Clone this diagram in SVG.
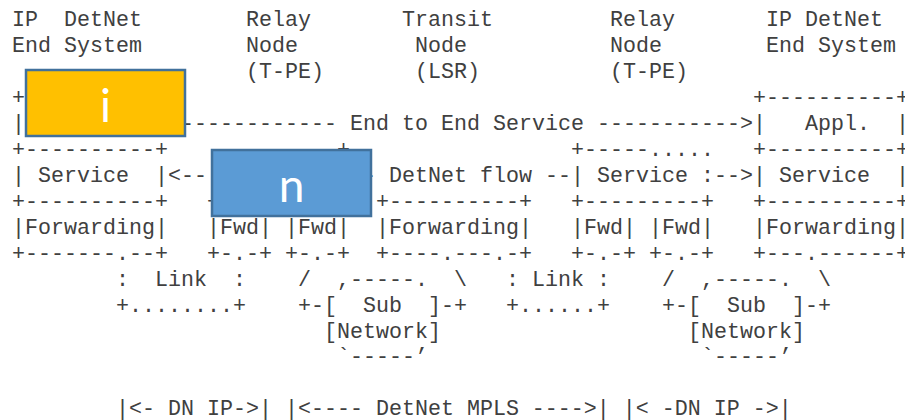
<svg xmlns="http://www.w3.org/2000/svg" width="905" height="420" viewBox="0 0 905 420">
  <style>
    .mono { font-family: "Liberation Mono", "DejaVu Sans Mono", monospace; font-size: 21.667px; fill: #404040; }
    .tag { stroke: #41719C; stroke-width: 2.5; }
    .letter { font-family: Lato, "Open Sans", "Liberation Sans", sans-serif; font-size: 46px; fill: #ffffff; text-anchor: middle; }
  </style>
  <rect width="905" height="420" fill="#ffffff"/>

  <!-- monospace drawing: column c starts at x = 12 + 13*c, rows every ~26px; runs of spaces use no-break spaces so they keep their width -->
  <g id="ascii-art" class="mono">
    <text y="26"><tspan x="12">IP&#160;&#160;DetNet</tspan><tspan x="246">Relay</tspan><tspan x="402">Transit</tspan><tspan x="610">Relay</tspan><tspan x="766">IP&#160;DetNet</tspan></text>
    <text y="52"><tspan x="12">End&#160;System</tspan><tspan x="246">Node</tspan><tspan x="415">Node</tspan><tspan x="610">Node</tspan><tspan x="766">End&#160;System</tspan></text>
    <text y="78"><tspan x="246">(T-PE)</tspan><tspan x="415">(LSR)</tspan><tspan x="610">(T-PE)</tspan></text>
    <text y="104"><tspan x="12">+</tspan><tspan x="753">+----------+</tspan></text>
    <text y="130"><tspan x="12">|</tspan><tspan x="181">------------</tspan><tspan x="350">End&#160;to&#160;End&#160;Service</tspan><tspan x="597">-----------&gt;|</tspan><tspan x="805">Appl.</tspan><tspan x="896">|</tspan></text>
    <text y="156"><tspan x="12">+----------+</tspan><tspan x="272">-----+</tspan><tspan x="571">+-----.....</tspan><tspan x="753">+----------+</tspan></text>
    <text y="182"><tspan x="12">|</tspan><tspan x="38">Service</tspan><tspan x="155">|&lt;--</tspan><tspan x="363">-</tspan><tspan x="389">DetNet&#160;flow&#160;--|&#160;Service&#160;:--&gt;|</tspan><tspan x="779">Service</tspan><tspan x="896">|</tspan></text>
    <text y="208"><tspan x="12">+----------+</tspan><tspan x="207">+</tspan><tspan x="376">+----------+</tspan><tspan x="571">+---------+</tspan><tspan x="753">+----------+</tspan></text>
    <text y="234"><tspan x="12">|Forwarding|</tspan><tspan x="207">|Fwd|&#160;|Fwd|</tspan><tspan x="376">|Forwarding|</tspan><tspan x="571">|Fwd|&#160;|Fwd|</tspan><tspan x="753">|Forwarding|</tspan></text>
    <text y="260"><tspan x="12">+-------.--+</tspan><tspan x="207">+-.-+&#160;+-.-+</tspan><tspan x="376">+----.---.-+</tspan><tspan x="571">+-.-+&#160;+-.-+</tspan><tspan x="753">+---.------+</tspan></text>
    <text y="285.5"><tspan x="116">:</tspan><tspan x="155">Link</tspan><tspan x="233">:</tspan><tspan x="298">/</tspan><tspan x="337">,-----.</tspan><tspan x="454">\</tspan><tspan x="506">:&#160;Link&#160;:</tspan><tspan x="662">/</tspan><tspan x="701">,-----.</tspan><tspan x="818">\</tspan></text>
    <text y="311.5"><tspan x="116">+........+</tspan><tspan x="298">+-[</tspan><tspan x="363">Sub</tspan><tspan x="428">]-+</tspan><tspan x="506">+......+</tspan><tspan x="662">+-[</tspan><tspan x="727">Sub</tspan><tspan x="792">]-+</tspan></text>
    <text y="337.5"><tspan x="324">[Network]</tspan><tspan x="688">[Network]</tspan></text>
    <text y="363"><tspan x="337">`-----’</tspan><tspan x="701">`-----’</tspan></text>
    <text y="415"><tspan x="116">|&lt;-&#160;DN&#160;IP-&gt;|&#160;|&lt;----&#160;DetNet&#160;MPLS&#160;----&gt;|&#160;|&lt;&#160;-DN&#160;IP&#160;-&gt;|</tspan></text>
  </g>

  <!-- label tiles laid over the drawing -->
  <g id="tile-i">
    <rect class="tag" x="26" y="70" width="159" height="66" fill="#FFC000"/>
    <text class="letter" x="105.5" y="122">i</text>
  </g>
  <g id="tile-n">
    <rect class="tag" x="212" y="150" width="159" height="66" fill="#5B9BD5"/>
    <text class="letter" x="291.5" y="202">n</text>
  </g>
</svg>
